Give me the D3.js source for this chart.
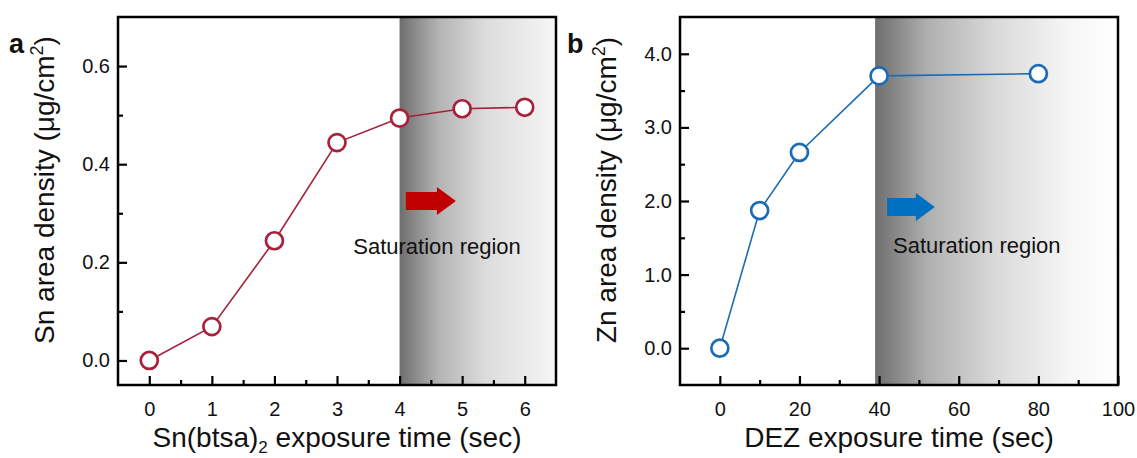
<!DOCTYPE html>
<html>
<head>
<meta charset="utf-8">
<script src="https://cdn.jsdelivr.net/npm/d3@7"></script>
<style>
  body { margin: 0; background: #fff; }
  svg text { font-family: Arial, "Liberation Sans", sans-serif; fill: #111; }
</style>
</head>
<body>
<div id="chart"></div>
<script>
// panel a
var snTime = [0, 1, 2, 3, 4, 5, 6];
var snDensity = [0.0, 0.069, 0.244, 0.444, 0.494, 0.513, 0.516];
var snXTicks = [0, 1, 2, 3, 4, 5, 6];
var snYTicks = [0.0, 0.2, 0.4, 0.6];
// panel b
var znTime = [0, 10, 20, 40, 80];
var znDensity = [0.0, 1.87, 2.66, 3.70, 3.73];
var znXTicks = [0, 20, 40, 60, 80, 100];
var znYTicks = [0.0, 1.0, 2.0, 3.0, 4.0];

var width = 1137, height = 458;
var svg = d3.select("#chart").append("svg")
    .attr("width", width)
    .attr("height", height);
var defs = svg.append("defs");

function drawPanel(opt) {
    var x = d3.scaleLinear().domain(opt.xDomain).range([opt.left, opt.right]);
    var y = d3.scaleLinear().domain(opt.yDomain).range([opt.bottom, opt.top]);
    var g = svg.append("g");

    // shaded saturation region
    var grad = defs.append("linearGradient")
        .attr("id", opt.id + "grad")
        .attr("x1", "0%").attr("x2", "100%").attr("y1", "0%").attr("y2", "0%");
    opt.gradStops.forEach(function(s) {
        grad.append("stop").attr("offset", s[0]).attr("stop-color", s[1]);
    });
    g.append("rect")
        .attr("x", x(opt.shadeFrom))
        .attr("y", opt.top)
        .attr("width", opt.right - x(opt.shadeFrom))
        .attr("height", opt.bottom - opt.top)
        .attr("fill", "url(#" + opt.id + "grad)");

    // minor ticks
    g.append("g")
        .attr("transform", "translate(0," + opt.bottom + ")")
        .call(d3.axisBottom(x).tickValues(opt.xMinor).tickSize(-5).tickFormat(""))
        .call(function(s) { s.select(".domain").remove(); })
        .selectAll("line").attr("stroke-width", 2.2);
    g.append("g")
        .attr("transform", "translate(" + opt.left + ",0)")
        .call(d3.axisLeft(y).tickValues(opt.yMinor).tickSize(-5).tickFormat(""))
        .call(function(s) { s.select(".domain").remove(); })
        .selectAll("line").attr("stroke-width", 2.2);

    // major ticks
    var xAxis = g.append("g")
        .attr("transform", "translate(0," + opt.bottom + ")")
        .call(d3.axisBottom(x).tickValues(opt.xTicks).tickSize(-9).tickPadding(17)
            .tickFormat(d3.format("d")));
    var yAxis = g.append("g")
        .attr("transform", "translate(" + opt.left + ",0)")
        .call(d3.axisLeft(y).tickValues(opt.yTicks).tickSize(-9).tickPadding(8)
            .tickFormat(d3.format(".1f")));
    [xAxis, yAxis].forEach(function(a) {
        a.select(".domain").remove();
        a.selectAll("line").attr("stroke-width", 2.2);
        a.selectAll("text").attr("font-size", 20).attr("fill", "#111");
    });
    xAxis.selectAll("text").attr("dy", "0.71em");

    // frame
    g.append("rect")
        .attr("x", opt.left).attr("y", opt.top)
        .attr("width", opt.right - opt.left)
        .attr("height", opt.bottom - opt.top)
        .attr("fill", "none")
        .attr("stroke", "#000")
        .attr("stroke-width", 2.5);

    // line + markers
    var pts = opt.xs.map(function(d, i) { return [d, opt.ys[i]]; });
    var line = d3.line()
        .x(function(d) { return x(d[0]); })
        .y(function(d) { return y(d[1]); });
    g.append("path")
        .attr("d", line(pts))
        .attr("fill", "none")
        .attr("stroke", opt.color)
        .attr("stroke-width", 1.6);
    g.selectAll("circle.pt")
        .data(pts)
        .enter()
        .append("circle")
        .attr("class", "pt")
        .attr("cx", function(d) { return x(d[0]); })
        .attr("cy", function(d) { return y(d[1]); })
        .attr("r", 8.5)
        .attr("fill", "#fff")
        .attr("stroke", opt.color)
        .attr("stroke-width", 2.7);

    // arrow
    var ax0 = x(opt.arrow[0]), ax1 = x(opt.arrow[1]), ay = y(opt.arrow[2]);
    var head = ax1 - 19;
    g.append("path")
        .attr("d", "M" + ax0 + "," + (ay - 9) + "L" + head + "," + (ay - 9) +
            "L" + head + "," + (ay - 14) + "L" + ax1 + "," + ay +
            "L" + head + "," + (ay + 14) + "L" + head + "," + (ay + 9) +
            "L" + ax0 + "," + (ay + 9) + "Z")
        .attr("fill", opt.arrowColor);

    g.append("text")
        .attr("x", x(opt.label[0]))
        .attr("y", y(opt.label[1]))
        .attr("font-size", 22)
        .text("Saturation region");

    // axis titles
    var xt = g.append("text")
        .attr("x", (opt.left + opt.right) / 2 + opt.xTitleShift)
        .attr("y", 447)
        .attr("text-anchor", "middle")
        .attr("font-size", 28);
    opt.xTitle.forEach(function(p) {
        var t = xt.append("tspan").text(p[0]);
        if (p[1] == "sub") t.attr("font-size", 17).attr("dy", 6);
        if (p[1] == "after") t.attr("dy", -6);
    });

    var ytx = opt.left - 64, yty = 190;
    var yt = g.append("text")
        .attr("transform", "translate(" + ytx + "," + yty + ") rotate(-90)")
        .attr("text-anchor", "middle")
        .attr("font-size", 28);
    yt.append("tspan").text(opt.yTitle);
    yt.append("tspan").text("2").attr("font-size", 18).attr("dy", -11);
    yt.append("tspan").text(")").attr("dy", 11);

    g.append("text")
        .attr("x", opt.letterX)
        .attr("y", 53)
        .attr("font-size", 27)
        .attr("font-weight", "bold")
        .attr("fill", "#000")
        .text(opt.letter);
}

drawPanel({
    id: "a", letter: "a", letterX: 9,
    left: 118, right: 556, top: 17, bottom: 385,
    xDomain: [-0.5, 6.5], yDomain: [-0.05, 0.7],
    xs: snTime, ys: snDensity,
    xTicks: snXTicks, yTicks: snYTicks,
    xMinor: [0.5, 1.5, 2.5, 3.5, 4.5, 5.5],
    yMinor: [0.1, 0.3, 0.5],
    color: "#a8203c", arrowColor: "#c00000",
    shadeFrom: 4,
    gradStops: [["0%", "#6e6e6e"], ["25%", "#b4b4b4"], ["55%", "#dcdcdc"], ["100%", "#f6f6f6"]],
    arrow: [4.1, 4.9, 0.325],
    label: [3.26, 0.218],
    xTitle: [["Sn(btsa)", ""], ["2", "sub"], [" exposure time (sec)", "after"]],
    xTitleShift: 0,
    yTitle: "Sn area density (\u03bcg/cm"
});

drawPanel({
    id: "b", letter: "b", letterX: 567,
    left: 680, right: 1118, top: 17, bottom: 385,
    xDomain: [-10, 100], yDomain: [-0.5, 4.5],
    xs: znTime, ys: znDensity,
    xTicks: znXTicks, yTicks: znYTicks,
    xMinor: [10, 30, 50, 70, 90],
    yMinor: [0.5, 1.5, 2.5, 3.5],
    color: "#1c6cb4", arrowColor: "#0070c0",
    shadeFrom: 39,
    gradStops: [["0%", "#6e6e6e"], ["22%", "#b0b0b0"], ["50%", "#dadada"], ["80%", "#f6f6f6"], ["100%", "#ffffff"]],
    arrow: [42, 54, 1.92],
    label: [43.5, 1.29],
    xTitle: [["DEZ exposure time (sec)", ""]],
    xTitleShift: 0,
    yTitle: "Zn area density (\u03bcg/cm"
});
</script>
</body>
</html>
